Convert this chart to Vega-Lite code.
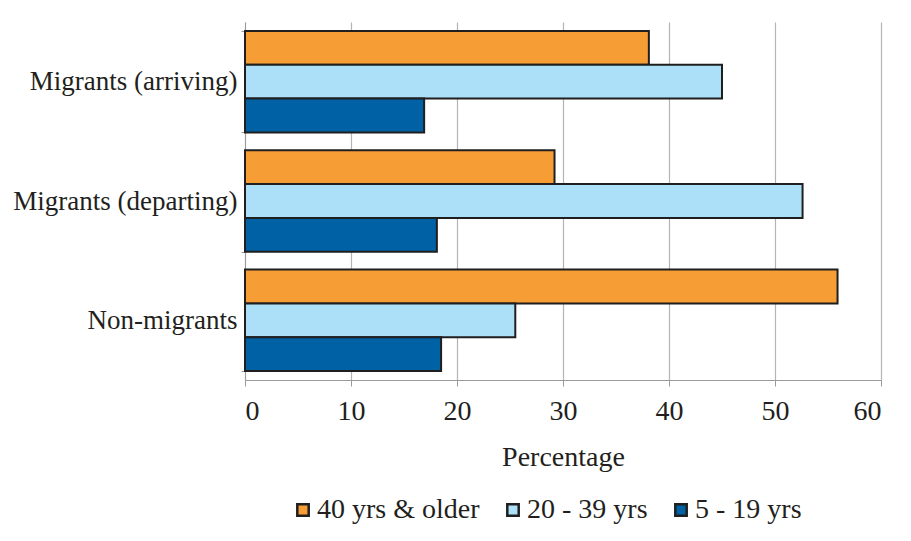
{
  "$schema": "https://vega.github.io/schema/vega-lite/v6.json",
  "width": 636,
  "height": 358,
  "autosize": {"type": "none"},
  "padding": {"left": 245, "top": 22, "right": 30, "bottom": 161},
  "background": "white",
  "data": {
    "values": [
      {"group": "Migrants (arriving)", "age": "40 yrs & older", "pct": 38.1},
      {"group": "Migrants (arriving)", "age": "20 - 39 yrs", "pct": 45.0},
      {"group": "Migrants (arriving)", "age": "5 - 19 yrs", "pct": 16.9},
      {"group": "Migrants (departing)", "age": "40 yrs & older", "pct": 29.2},
      {"group": "Migrants (departing)", "age": "20 - 39 yrs", "pct": 52.6},
      {"group": "Migrants (departing)", "age": "5 - 19 yrs", "pct": 18.1},
      {"group": "Non-migrants", "age": "40 yrs & older", "pct": 55.9},
      {"group": "Non-migrants", "age": "20 - 39 yrs", "pct": 25.5},
      {"group": "Non-migrants", "age": "5 - 19 yrs", "pct": 18.5}
    ]
  },
  "mark": {"type": "bar", "stroke": "#1f1f1f", "strokeWidth": 2},
  "encoding": {
    "y": {
      "field": "group",
      "type": "nominal",
      "sort": ["Migrants (arriving)", "Migrants (departing)", "Non-migrants"],
      "scale": {"paddingInner": 0.15, "paddingOuter": 0.075},
      "axis": {
        "title": null,
        "tickBand": "extent",
        "domainColor": "#9a9a9a",
        "tickColor": "#9a9a9a",
        "tickSize": 4,
        "labelPadding": 4,
        "labelLimit": 400,
        "labelFontSize": 27,
        "labelFont": "Liberation Serif, Times New Roman, serif",
        "grid": false
      }
    },
    "yOffset": {
      "field": "age",
      "type": "nominal",
      "sort": ["40 yrs & older", "20 - 39 yrs", "5 - 19 yrs"],
      "scale": {"paddingInner": 0, "paddingOuter": 0}
    },
    "x": {
      "field": "pct",
      "type": "quantitative",
      "scale": {"domain": [0, 60], "nice": false},
      "axis": {
        "title": "Percentage",
        "values": [0, 10, 20, 30, 40, 50, 60],
        "grid": true,
        "gridColor": "#b4b4b4",
        "gridWidth": 1.2,
        "domainColor": "#9a9a9a",
        "tickColor": "#9a9a9a",
        "tickSize": 6,
        "labelPadding": 11,
        "titlePadding": 18,
        "labelFont": "Liberation Serif, Times New Roman, serif",
        "titleFont": "Liberation Serif, Times New Roman, serif"
      }
    },
    "color": {
      "field": "age",
      "type": "nominal",
      "sort": ["40 yrs & older", "20 - 39 yrs", "5 - 19 yrs"],
      "scale": {
        "domain": ["40 yrs & older", "20 - 39 yrs", "5 - 19 yrs"],
        "range": ["#F79D36", "#ABE0F8", "#0061A5"]
      },
      "legend": {
        "title": null,
        "orient": "none",
        "legendX": 44,
        "legendY": 474,
        "direction": "horizontal",
        "symbolType": "square",
        "symbolSize": 130,
        "symbolStrokeColor": "#1f1f1f",
        "symbolStrokeWidth": 2.5,
        "columnPadding": 19,
        "labelOffset": 0,
        "labelFont": "Liberation Serif, Times New Roman, serif",
        "labelFontSize": 28,
        "labelColor": "#231f20",
        "labelLimit": 400
      }
    }
  },
  "config": {
    "view": {"stroke": null},
    "font": "Liberation Serif, Times New Roman, serif",
    "axis": {
      "labelFontSize": 28,
      "titleFontSize": 28,
      "titleFontWeight": "normal",
      "labelColor": "#231f20",
      "titleColor": "#231f20"
    }
  }
}
